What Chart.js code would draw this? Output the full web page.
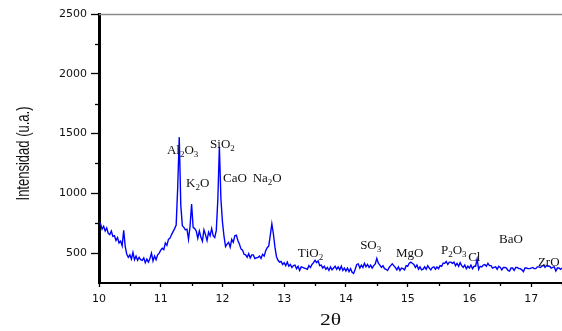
<!DOCTYPE html>
<html>
<head>
<meta charset="utf-8">
<script src="https://cdn.jsdelivr.net/npm/chart.js@4.4.1/dist/chart.umd.min.js"></script>
<style>
html,body{margin:0;padding:0;background:#fff;}
#wrap{width:562px;height:331px;position:relative;}
</style>
</head>
<body>
<div id="wrap"><canvas id="c" width="562" height="331"></canvas></div>
<script>
// 2θ sample positions (degrees)
const twoTheta = [
10.000,10.025,10.050,10.075,10.100,10.125,10.150,10.175,10.200,10.225,
10.250,10.275,10.300,10.325,10.350,10.375,10.400,10.425,10.450,10.475,
10.500,10.525,10.550,10.575,10.600,10.625,10.650,10.675,10.700,10.725,
10.750,10.775,10.800,10.825,10.850,10.875,10.900,10.925,10.950,10.975,
11.000,11.025,11.050,11.075,11.100,11.125,11.150,11.175,11.200,11.225,
11.250,11.275,11.300,11.325,11.350,11.375,11.400,11.425,11.450,11.475,
11.500,11.525,11.550,11.575,11.600,11.625,11.650,11.675,11.700,11.725,
11.750,11.775,11.800,11.825,11.850,11.875,11.900,11.925,11.950,11.975,
12.000,12.025,12.050,12.075,12.100,12.125,12.150,12.175,12.200,12.225,
12.250,12.275,12.300,12.325,12.350,12.375,12.400,12.425,12.450,12.475,
12.500,12.525,12.550,12.575,12.600,12.625,12.650,12.675,12.700,12.725,
12.750,12.775,12.800,12.825,12.850,12.875,12.900,12.925,12.950,12.975,
13.000,13.025,13.050,13.075,13.100,13.125,13.150,13.175,13.200,13.225,
13.250,13.275,13.300,13.325,13.350,13.375,13.400,13.425,13.450,13.475,
13.500,13.525,13.550,13.575,13.600,13.625,13.650,13.675,13.700,13.725,
13.750,13.775,13.800,13.825,13.850,13.875,13.900,13.925,13.950,13.975,
14.000,14.025,14.050,14.075,14.100,14.125,14.150,14.175,14.200,14.225,
14.250,14.275,14.300,14.325,14.350,14.375,14.400,14.425,14.450,14.475,
14.500,14.525,14.550,14.575,14.600,14.625,14.650,14.675,14.700,14.725,
14.750,14.775,14.800,14.825,14.850,14.875,14.900,14.925,14.950,14.975,
15.000,15.025,15.050,15.075,15.100,15.125,15.150,15.175,15.200,15.225,
15.250,15.275,15.300,15.325,15.350,15.375,15.400,15.425,15.450,15.475,
15.500,15.525,15.550,15.575,15.600,15.625,15.650,15.675,15.700,15.725,
15.750,15.775,15.800,15.825,15.850,15.875,15.900,15.925,15.950,15.975,
16.000,16.025,16.050,16.075,16.100,16.125,16.150,16.175,16.200,16.225,
16.250,16.275,16.300,16.325,16.350,16.375,16.400,16.425,16.450,16.475,
16.500,16.525,16.550,16.575,16.600,16.625,16.650,16.675,16.700,16.725,
16.750,16.775,16.800,16.825,16.850,16.875,16.900,16.925,16.950,16.975,
17.000,17.025,17.050,17.075,17.100,17.125,17.150,17.175,17.200,17.225,
17.250,17.275,17.300,17.325,17.350,17.375,17.400,17.425,17.450,17.475,
17.500
];

// Intensity (u.a.)
const intensity = [
760,745,700,725,685,710,665,655,685,640,
645,605,630,585,600,560,690,555,490,465,
485,450,505,445,475,440,465,445,440,460,
420,450,425,455,500,435,475,445,485,500,
525,540,530,585,565,615,625,655,680,705,
735,1050,1470,900,730,715,695,700,615,725,
910,715,705,685,625,685,635,600,695,655,
605,675,645,705,645,630,690,950,1390,950,
760,640,555,575,590,550,615,590,645,650,
605,575,535,525,490,485,465,495,460,485,
485,455,460,465,475,455,490,475,520,545,
560,650,745,660,550,470,440,425,430,405,
420,395,425,390,405,380,395,400,370,390,
355,385,380,375,370,365,395,380,405,420,
440,420,435,395,400,375,390,365,380,355,
385,360,375,390,365,385,360,390,355,375,
350,375,345,370,340,330,365,405,410,375,
400,380,415,385,405,380,400,375,395,410,
455,415,400,380,395,370,365,355,380,395,
410,395,380,360,385,355,375,370,360,395,
390,415,425,415,405,380,400,365,385,360,
365,385,365,395,375,360,380,385,365,385,
370,395,390,415,415,430,405,425,425,415,
425,395,415,390,420,395,380,400,370,390,
375,400,370,390,390,450,365,390,385,400,
405,390,415,395,395,375,380,385,365,390,
380,360,380,380,375,355,350,375,375,355,
380,380,370,370,360,345,375,375,370,370,
375,380,370,370,385,385,380,390,400,380,
395,390,390,375,380,385,350,375,375,365,
375
];

// Axis ticks
const xTicks = [10, 11, 12, 13, 14, 15, 16, 17];
const yTicks = [500, 1000, 1500, 2000, 2500];

// Peak labels ("_" marks a subscript digit), anchored in data units
const peakLabels = ['Al_2O_3','SiO_2','K_2O','CaO','Na_2O','TiO_2','SO_3','MgO','P_2O_3','Cl','BaO','ZrO'];
const peakLabelX = [11.10, 11.80, 11.41, 12.01, 12.49, 13.22, 14.23, 14.81, 15.54, 15.98, 16.48, 17.11];
const peakLabelY = [1325, 1377, 1056, 1092, 1092, 470, 534, 470, 490, 434, 582, 395];

const points = twoTheta.map((t, i) => ({x: t, y: intensity[i]}));

const decor = {
  id: 'decor',
  afterDraw(chart) {
    const ctx = chart.ctx;
    const a = chart.chartArea;
    const xs = chart.scales.x, ys = chart.scales.y;
    ctx.save();
    // top frame line
    ctx.strokeStyle = '#8a8a8a';
    ctx.lineWidth = 1.3;
    ctx.beginPath();
    ctx.moveTo(a.left, a.top + 0.5);
    ctx.lineTo(a.right, a.top + 0.5);
    ctx.stroke();
    // minor ticks
    ctx.strokeStyle = '#000';
    ctx.lineWidth = 1.3;
    for (let v = 10.5; v <= 17.5; v += 1) {
      const px = Math.round(xs.getPixelForValue(v)) + 0.5;
      ctx.beginPath(); ctx.moveTo(px, a.bottom); ctx.lineTo(px, a.bottom + 3); ctx.stroke();
    }
    for (let v = 750; v < 2500; v += 500) {
      const py = Math.round(ys.getPixelForValue(v)) + 0.5;
      ctx.beginPath(); ctx.moveTo(a.left - 4, py); ctx.lineTo(a.left, py); ctx.stroke();
    }
    // axis titles (stretched horizontally like the source image)
    ctx.fillStyle = '#111';
    ctx.save();
    ctx.translate(24.5, (a.top + a.bottom) / 2 + 5);
    ctx.rotate(-Math.PI / 2);
    ctx.scale(1, 1.35);
    ctx.font = '13px "Liberation Sans", Arial, sans-serif';
    ctx.textAlign = 'center';
    ctx.textBaseline = 'middle';
    ctx.fillText('Intensidad (u.a.)', 0, 0);
    ctx.restore();
    ctx.save();
    ctx.translate((a.left + a.right) / 2, 321);
    ctx.scale(1.35, 1);
    ctx.font = '16px "Liberation Serif", "Times New Roman", serif';
    ctx.textAlign = 'center';
    ctx.textBaseline = 'middle';
    ctx.fillText('2θ', 0, 0);
    ctx.restore();
    // peak labels
    ctx.fillStyle = '#111';
    ctx.textAlign = 'left';
    ctx.textBaseline = 'alphabetic';
    peakLabels.forEach((lab, i) => {
      let px = xs.getPixelForValue(peakLabelX[i]);
      const py = ys.getPixelForValue(peakLabelY[i]);
      for (let k = 0; k < lab.length; k++) {
        let ch = lab[k], sub = false;
        if (ch === '_') { k++; ch = lab[k]; sub = true; }
        ctx.font = sub ? '9px "Liberation Serif", serif' : '13px "Liberation Serif", serif';
        ctx.fillText(ch, px, sub ? py + 3 : py);
        px += ctx.measureText(ch).width;
      }
    });
    ctx.restore();
  }
};

new Chart(document.getElementById('c'), {
  type: 'line',
  data: {
    datasets: [{
      data: points,
      borderColor: '#0000ff',
      borderWidth: 1.4,
      pointRadius: 0,
      tension: 0,
      fill: false
    }]
  },
  options: {
    responsive: false,
    animation: false,
    events: [],
    layout: {padding: {top: 14, left: 0, right: 0, bottom: 0}},
    plugins: {legend: {display: false}, tooltip: {enabled: false}},
    scales: {
      x: {
        type: 'linear',
        min: 10, max: 17.5,
        afterFit: s => { s.height = 48; },
        afterBuildTicks: s => { s.ticks = xTicks.map(v => ({value: v})); },
        ticks: {
          includeBounds: false,
          color: '#111',
          padding: 6,
          maxRotation: 0,
          callback: v => String(v),
          font: {family: '"DejaVu Sans", sans-serif', size: 11}
        },
        grid: {display: true, drawOnChartArea: false, drawTicks: true, tickLength: 4, tickColor: '#000', tickWidth: 1.3},
        border: {display: true, color: '#000', width: 2}
      },
      y: {
        type: 'linear',
        min: 250, max: 2500,
        afterFit: s => { s.width = 99; },
        afterBuildTicks: s => { s.ticks = yTicks.map(v => ({value: v})); },
        ticks: {
          color: '#111',
          padding: 4,
          callback: v => String(v),
          font: {family: '"DejaVu Sans", sans-serif', size: 11}
        },
        grid: {display: true, drawOnChartArea: false, drawTicks: true, tickLength: 8, tickColor: '#000', tickWidth: 1.3},
        border: {display: true, color: '#000', width: 3}
      }
    }
  },
  plugins: [decor]
});
</script>
</body>
</html>
